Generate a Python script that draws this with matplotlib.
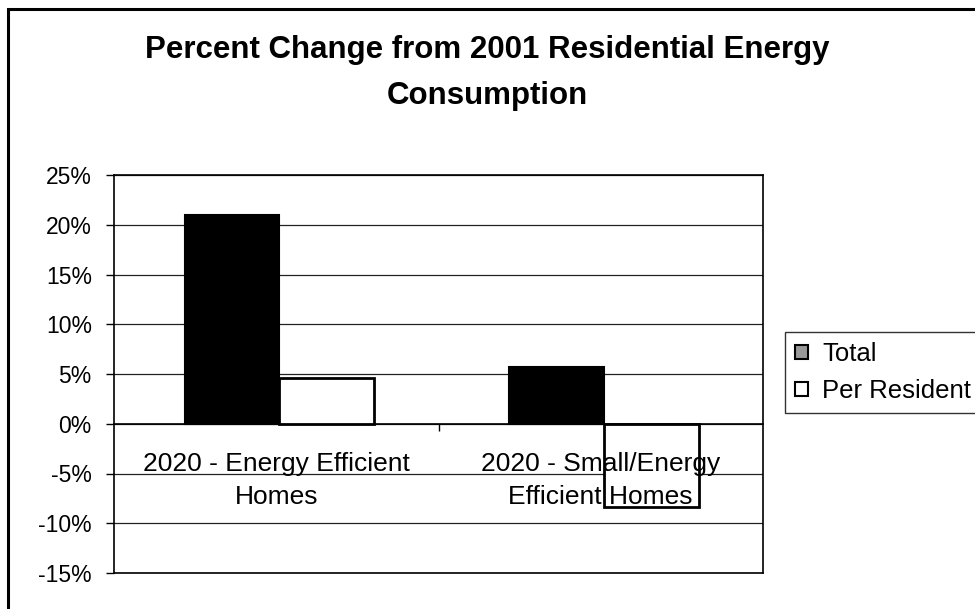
import matplotlib
matplotlib.use("Agg")
import matplotlib.pyplot as plt
from matplotlib.patches import Rectangle
from matplotlib.ticker import FuncFormatter
import numpy as np

categories = ["2020 - Energy Efficient\nHomes", "2020 - Small/Energy\nEfficient Homes"]
series_names = ["Total", "Per Resident"]
total = [21.0, 5.7]
per_resident = [4.6, -8.4]
yticks = [-15, -10, -5, 0, 5, 10, 15, 20, 25]

plt.rcParams['font.family'] = ['Liberation Sans', 'DejaVu Sans']

fig = plt.figure(figsize=(9.75, 6.09), dpi=100)
fig.patches.append(Rectangle((8/975, -0.1), 1.2, 1.1 - 9/609, transform=fig.transFigure,
                             fill=False, edgecolor='black', linewidth=2.2, zorder=0))

ax = fig.add_axes([114/975, 36/609, (763-114)/975, (573-175)/609])
x = np.arange(len(categories))
w = 0.292
ax.bar(x - w/2 + 0.01, total, width=w, color='black', edgecolor='black', linewidth=1.5, label=series_names[0], zorder=3)
ax.bar(x + w/2 + 0.01, per_resident, width=w, color='white', edgecolor='black', linewidth=2.0, label=series_names[1], zorder=3)

ax.set_xlim(-0.5, 1.5)
ax.set_ylim(-15, 25)
ax.set_yticks(yticks)
ax.yaxis.set_major_formatter(FuncFormatter(lambda v, p: f"{int(v)}%"))
ax.tick_params(axis='y', direction='out', length=6, width=1, labelsize=16.5, pad=10)
ax.yaxis.grid(True, color='#222222', linewidth=0.9, zorder=0)
ax.set_axisbelow(True)
ax.axhline(-15, color='black', linewidth=1.2, clip_on=False, zorder=4)

ax.spines['bottom'].set_position(('data', 0))
for s in ax.spines.values():
    s.set_linewidth(1.2)
ax.set_xticks([0.5])
ax.set_xticklabels([''])
ax.tick_params(axis='x', direction='out', length=5, width=1)

for i, c in enumerate(categories):
    ax.annotate(c, xy=(x[i], 0), xytext=(0, -20), textcoords='offset points',
                ha='center', va='top', fontsize=19, linespacing=1.5, zorder=5)

fig.text(0.5, 1 - 73/609, "Percent Change from 2001 Residential Energy\nConsumption",
         ha='center', va='center', fontsize=22.5, fontweight='bold', linespacing=1.72)

leg = fig.legend(loc='upper left', bbox_to_anchor=(785/975, 1 - 332/609), frameon=True,
                 fontsize=18.5, handlelength=0.5, handleheight=0.5, handletextpad=0.55,
                 borderpad=0.4, borderaxespad=0, labelspacing=0.5, fancybox=False)
leg.get_frame().set_edgecolor('black')
leg.get_frame().set_linewidth(1)
leg.legend_handles[0].set_facecolor('#999999')
leg.legend_handles[0].set_linewidth(1.5)
leg.legend_handles[1].set_linewidth(1.5)

fig.savefig("out.png", dpi=100)
